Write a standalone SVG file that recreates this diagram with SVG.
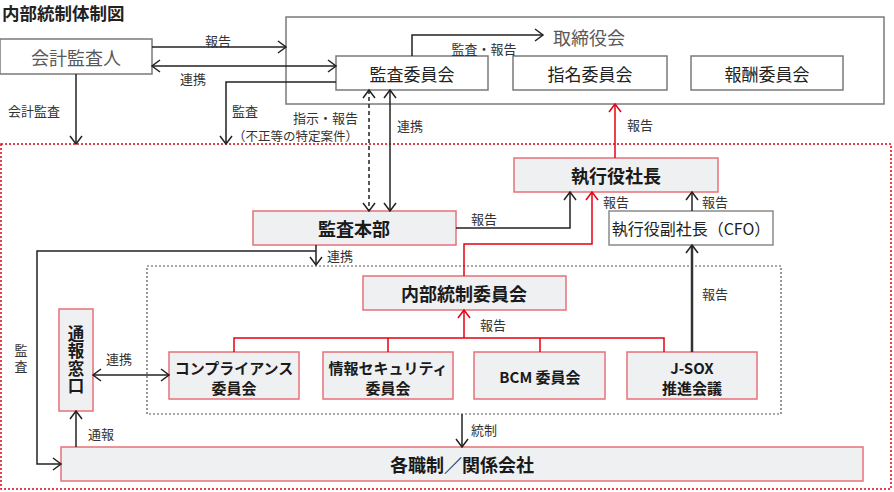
<svg xmlns="http://www.w3.org/2000/svg" width="894" height="492" viewBox="0 0 894 492">
<style>
text{font-family:"Noto Sans CJK JP","Noto Sans",sans-serif;dominant-baseline:central;text-anchor:middle}
.g{fill:#fff;stroke:#7a7a7a;stroke-width:1.5}
.r{fill:#eff0f2;stroke:#e8707a;stroke-width:1.5}
.gt{font-size:18px;fill:#595959}
.bt{font-size:17px;fill:#222}
.rt{font-size:18px;font-weight:bold;fill:#1a1a1a}
.vt{font-size:16.5px;font-weight:bold;fill:#1a1a1a;writing-mode:vertical-rl;letter-spacing:1px}
.st{font-size:15px;font-weight:bold;fill:#1a1a1a}
.lb{font-size:13px;fill:#333}
.k{fill:none;stroke:#222;stroke-width:1.5}
.kr{fill:none;stroke:#e60012;stroke-width:1.5}
</style>
<defs>
<marker id="ah" markerUnits="userSpaceOnUse" markerWidth="20" markerHeight="20" viewBox="-10 -10 20 20" refX="0" refY="0" orient="auto-start-reverse"><path d="M-8,-6 L0,0 L-8,6" fill="none" stroke="#222" stroke-width="1.5"/></marker>
<marker id="ahr" markerUnits="userSpaceOnUse" markerWidth="20" markerHeight="20" viewBox="-10 -10 20 20" refX="0" refY="0" orient="auto-start-reverse"><path d="M-8,-6 L0,0 L-8,6" fill="none" stroke="#e60012" stroke-width="1.5"/></marker>
</defs>
<rect width="894" height="492" fill="#fff"/>
<text x="2" y="12" style="text-anchor:start;font-size:17.5px;font-weight:bold;fill:#222">内部統制体制図</text>

<g id="frames">
<rect x="1" y="144" width="890" height="345" fill="none" stroke="#e60012" stroke-width="1.5" stroke-dasharray="2,2"/>
<rect x="147" y="266" width="634" height="148" fill="none" stroke="#555" stroke-width="1.2" stroke-dasharray="2,2"/>
</g>

<g id="board">
<rect class="g" x="286" y="17" width="598" height="87"/>
<text class="gt" x="589" y="37">取締役会</text>
</g>
<g id="auditor"><rect class="g" x="0" y="39" width="152" height="35"/><text class="gt" x="76" y="57">会計監査人</text></g>
<g id="audit-committee"><rect class="g" x="336" y="56" width="152" height="34"/><text class="bt" x="412" y="73">監査委員会</text></g>
<g id="nomination"><rect class="g" x="513" y="56" width="154" height="34"/><text class="bt" x="590" y="73">指名委員会</text></g>
<g id="remuneration"><rect class="g" x="691" y="56" width="152" height="34"/><text class="bt" x="767" y="73">報酬委員会</text></g>
<g id="ceo"><rect class="r" x="514" y="158" width="204" height="34"/><text class="rt" x="616" y="175">執行役社長</text></g>
<g id="cfo"><rect x="609" y="211" width="164" height="34" fill="#fff" stroke="#8a8a8a" stroke-width="1.5"/><text x="691" y="228" style="font-size:16px;fill:#222">執行役副社長（CFO）</text></g>
<g id="audit-dept"><rect class="r" x="253" y="211" width="203" height="34"/><text class="rt" x="354" y="228">監査本部</text></g>
<g id="ic-committee"><rect class="r" x="363" y="276" width="203" height="34"/><text class="rt" x="464" y="293">内部統制委員会</text></g>
<g id="compliance"><rect class="r" x="169" y="352" width="130" height="47"/><text class="st" x="234" y="367">コンプライアンス</text><text class="st" x="234" y="387">委員会</text></g>
<g id="infosec"><rect class="r" x="323" y="352" width="130" height="47"/><text class="st" x="388" y="367">情報セキュリティ</text><text class="st" x="388" y="387">委員会</text></g>
<g id="bcm"><rect class="r" x="474" y="352" width="131" height="47"/><text class="st" x="540" y="376">BCM 委員会</text></g>
<g id="jsox"><rect class="r" x="627" y="352" width="130" height="47"/><text class="st" x="692" y="367">J-SOX</text><text class="st" x="692" y="387">推進会議</text></g>
<g id="hotline"><rect class="r" x="59" y="309" width="34" height="102"/>
<text class="vt" x="76" y="360">通報窓口</text></g>
<g id="divisions"><rect class="r" x="61" y="447" width="802" height="34"/><text class="rt" x="462" y="464">各職制／関係会社</text></g>

<g id="connectors">
<path class="k" d="M152,47 H286" marker-end="url(#ah)"/>
<path class="k" d="M152,66 H336" marker-start="url(#ah)" marker-end="url(#ah)"/>
<path class="k" d="M336,82 H226 V144" marker-end="url(#ah)"/>
<path class="k" d="M76,74 V144" marker-end="url(#ah)"/>
<path class="k" d="M412,56 V35 H543" marker-end="url(#ah)"/>
<path class="k" d="M369,90 V211" stroke-dasharray="4,3" marker-start="url(#ah)" marker-end="url(#ah)"/>
<path class="k" d="M390,90 V211" marker-start="url(#ah)" marker-end="url(#ah)"/>
<path class="kr" d="M615,158 V104" marker-end="url(#ahr)"/>
<path class="k" d="M692,211 V192" marker-end="url(#ah)"/>
<path d="M692,352 V245" fill="none" stroke="#333" stroke-width="2.5" marker-end="url(#ah)"/>
<path class="kr" d="M464,276 V244 H592 V192" marker-end="url(#ahr)"/>
<path class="k" d="M456,228 H570 V192" marker-end="url(#ah)"/>
<path class="k" d="M316,245 V265" marker-end="url(#ah)"/>
<path class="k" d="M316,251 H37 V464 H61" stroke-width="2" marker-end="url(#ah)"/>
<path class="k" d="M93,375 H169" marker-start="url(#ah)" marker-end="url(#ah)"/>
<path class="k" d="M76,447 V411" marker-end="url(#ah)"/>
<path class="k" d="M462,414 V447" marker-end="url(#ah)"/>
<path class="kr" d="M234,352 V338 H664 V352 M388,338 V352 M540,338 V352"/>
<path class="kr" d="M464,338 V310" marker-end="url(#ahr)"/>
</g>

<g id="labels">
<text class="lb" x="218" y="40">報告</text>
<text class="lb" x="193" y="78">連携</text>
<text class="lb" x="8" y="110" style="text-anchor:start">会計監査</text>
<text class="lb" x="245" y="110">監査</text>
<text class="lb" x="358" y="117" style="text-anchor:end">指示・報告</text>
<text class="lb" x="358" y="135" style="text-anchor:end;font-size:12.5px">（不正等の特定案件）</text>
<text class="lb" x="484" y="48">監査・報告</text>
<text class="lb" x="410" y="125">連携</text>
<text class="lb" x="640" y="124">報告</text>
<text class="lb" x="484" y="218">報告</text>
<text class="lb" x="340" y="255">連携</text>
<text class="lb" x="616" y="201">報告</text>
<text class="lb" x="715" y="201">報告</text>
<text class="lb" x="715" y="293">報告</text>
<text class="lb" x="493" y="324">報告</text>
<text class="lb" x="119" y="358">連携</text>
<text class="lb" x="101" y="433">通報</text>
<text class="lb" x="484" y="429">統制</text>
<text class="lb" x="21" y="360" style="writing-mode:vertical-rl;letter-spacing:3px">監査</text>
</g>
</svg>
